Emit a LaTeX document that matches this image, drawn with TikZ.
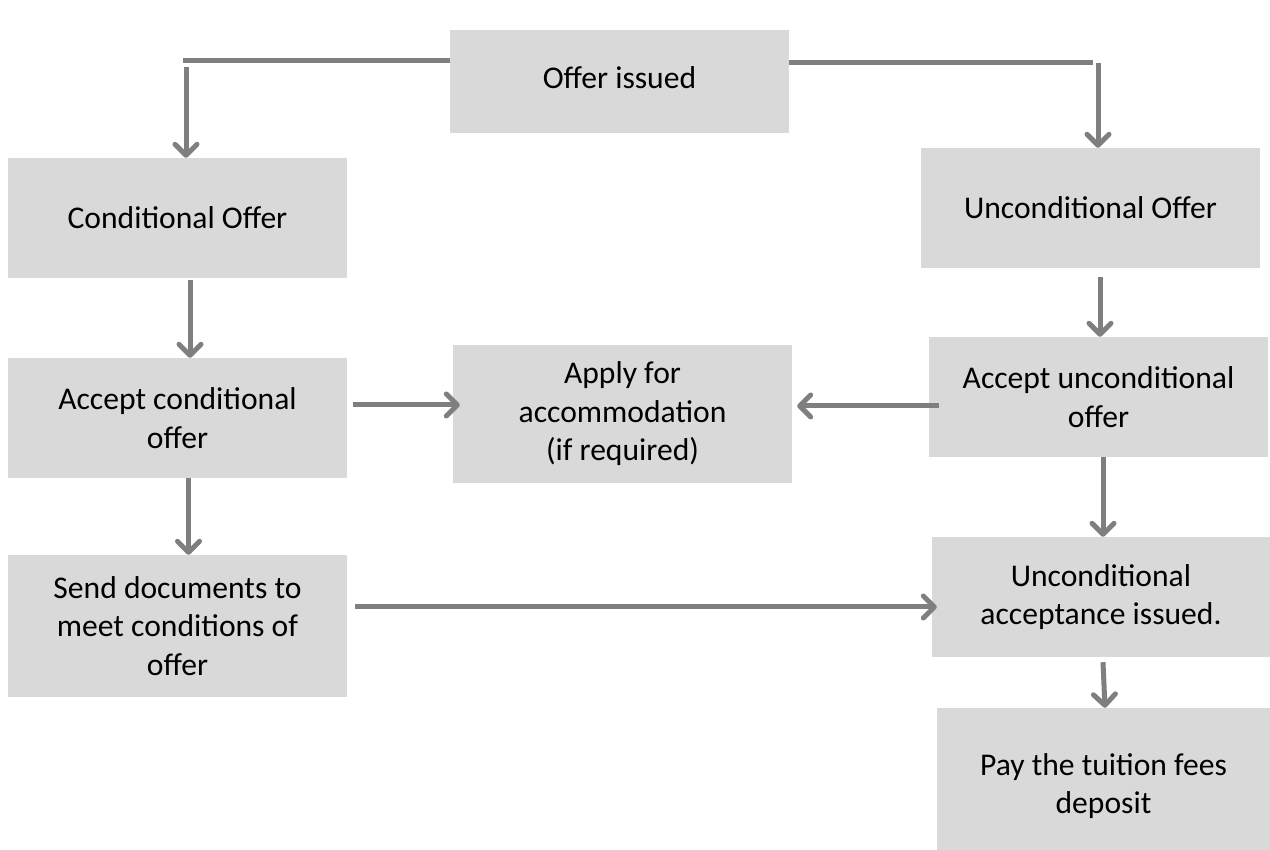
\documentclass[tikz,border=0pt]{standalone}
\usepackage{fontspec}
\setmainfont{Carlito}
\usepackage{tikz}
\usetikzlibrary{arrows.meta}
\usepackage{xcolor}
\definecolor{boxgray}{HTML}{D9D9D9}
\definecolor{linegray}{HTML}{7F7F7F}

\begin{document}
\begin{tikzpicture}[
  x=1pt, y=1pt,
  font=\fontsize{31.6pt}{38.5pt}\selectfont,
  box/.style={fill=boxgray, align=center, inner sep=0pt, minimum width=339pt, minimum height=120pt},
  conn/.style={draw=linegray, line width=5pt},
  arrow/.style={conn, -{Straight Barb[length=11pt, width=22pt, round]}}
]
\useasboundingbox (0,0) rectangle (1270,850);

\node[box, minimum height=103pt] (offer)     at (619.5,768.5) {\raisebox{7pt}{Offer issued}};
\node[box]                       (cond)      at (177.5,632)   {Conditional Offer};
\node[box]                       (uncond)    at (1090.5,642)  {Unconditional Offer};
\node[box]                       (acccond)   at (177.5,432)   {Accept conditional\\offer};
\node[box, minimum height=138pt] (apply)     at (622.5,436)   {Apply for\\accommodation\\(if required)};
\node[box]                       (accuncond) at (1098.5,453)  {Accept unconditional\\offer};
\node[box, minimum height=142pt] (send)      at (177.5,224)   {Send documents to\\meet conditions of\\offer};
\node[box, minimum width=338pt]  (uacc)      at (1101,253)    {Unconditional\\acceptance issued.};
% runs past the lower edge of the page
\node[box, minimum width=333pt, minimum height=156pt] (pay) at (1103.5,64) {Pay the tuition fees\\deposit};

% split from the top box
\coordinate (tl) at (186,789);
\coordinate (tr) at (1098,787);
\draw[conn] (offer.west |- tl) -- ([xshift=-3pt]tl);
\draw[arrow] ([yshift=-6pt]tl) -- (tl |- cond.north);
\draw[conn] (offer.east |- tr) -- ([xshift=-5pt]tr);
\draw[arrow] (tr) -- (tr |- uncond.north);

% left column
\draw[arrow] ([xshift=12.5pt,yshift=-2pt]cond.south) -- ([xshift=12.5pt]acccond.north);
\draw[arrow] ([xshift=11pt]acccond.south) -- ([xshift=11pt]send.north);
\draw[arrow] ([xshift=6pt,yshift=13pt]acccond.east) -- ([xshift=7pt,yshift=9pt]apply.west);
\draw[arrow] ([xshift=8pt,yshift=19pt]send.east) -- ([xshift=5pt,yshift=-10pt]uacc.west);

% right column
\draw[arrow] ([xshift=9.5pt,yshift=-9pt]uncond.south) -- ([xshift=1.5pt]accuncond.north);
\draw[arrow] ([xshift=10pt,yshift=-9pt]accuncond.west) -- ([xshift=5pt,yshift=8pt]apply.east);
\draw[arrow] ([xshift=4.5pt]accuncond.south) -- ([xshift=2pt]uacc.north);
\draw[arrow] ([xshift=2pt,yshift=-5pt]uacc.south) -- ([xshift=1.5pt]pay.north);

\end{tikzpicture}
\end{document}
